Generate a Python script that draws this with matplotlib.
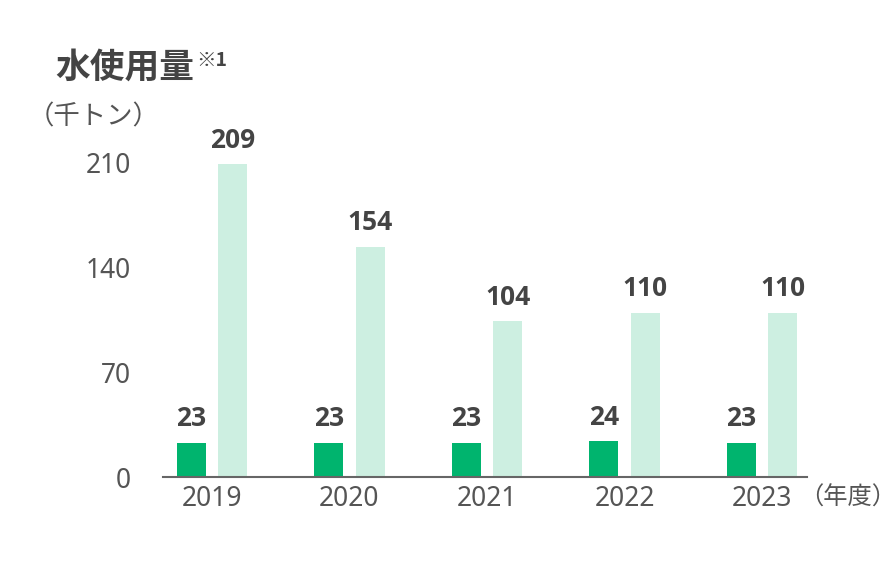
import numpy as np
import matplotlib
matplotlib.use('Agg')
import matplotlib.pyplot as plt

plt.rcParams['font.family'] = ['Noto Sans', 'Noto Sans CJK JP', 'DejaVu Sans']

years = ['2019', '2020', '2021', '2022', '2023']
series_a = [23, 23, 23, 24, 23]
series_b = [209, 154, 104, 110, 110]
yticks = [0, 70, 140, 210]

dark = '#00b46e'
light = '#cdefe1'
txt = '#444444'
tick_c = '#555555'

fig = plt.figure(figsize=(8.96, 5.63), dpi=100)
ax = fig.add_axes([163 / 896, 86 / 563, 644 / 896, 314 / 563])

x = np.arange(len(years))
w = 0.21
ax.bar(x - 0.15, series_a, width=w, color=dark)
ax.bar(x + 0.15, series_b, width=w, color=light)

for xi, v in zip(x, series_a):
    ax.text(xi - 0.15, v + 7, str(v), ha='center', va='bottom',
            fontsize=19, fontweight='bold', color=txt, family=['Open Sans'])
for xi, v in zip(x, series_b):
    ax.text(xi + 0.15, v + 7, str(v), ha='center', va='bottom',
            fontsize=19, fontweight='bold', color=txt, family=['Open Sans'])

ax.set_xlim(-0.356, 4.327)
ax.set_ylim(0, 210)
ax.set_yticks(yticks)
ax.set_yticklabels([str(t) for t in yticks], fontsize=19, color=tick_c)
ax.set_xticks(x)
ax.set_xticklabels(years, fontsize=19, color=tick_c)
ax.tick_params(axis='y', length=0, pad=23)
ax.tick_params(axis='x', length=0, pad=6)

for s in ['top', 'right', 'left']:
    ax.spines[s].set_visible(False)
ax.spines['bottom'].set_color('#666666')
ax.spines['bottom'].set_linewidth(1.5)

fig.text(55 / 896, 1 - 67 / 563, '水使用量', fontsize=25, fontweight='bold',
         color=txt, va='center', family=['Noto Sans CJK JP'])
fig.text(196 / 896, 1 - 60 / 563, '※1', fontsize=14, fontweight='bold',
         color=txt, va='center', family=['Noto Sans CJK JP'])
fig.text(28 / 896, 1 - 117 / 563, '（千トン）', fontsize=19, color=tick_c,
         va='center', family=['Noto Sans CJK JP'])
fig.text(799 / 896, 1 - 498 / 563, '（年度）', fontsize=17.5, color=tick_c,
         va='center', family=['Noto Sans CJK JP'])

fig.savefig('out.png', dpi=100)
